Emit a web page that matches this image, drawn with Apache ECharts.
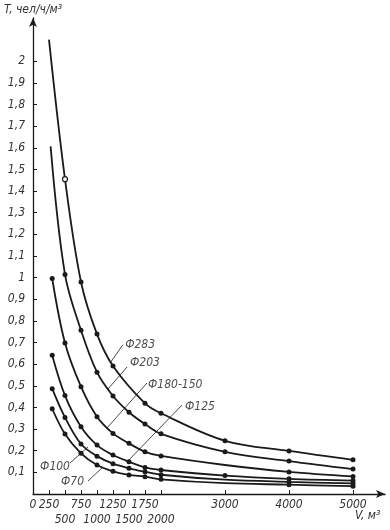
<!DOCTYPE html>
<html>
<head>
<meta charset="utf-8">
<script src="https://cdn.jsdelivr.net/npm/echarts@6/dist/echarts.min.js"></script>
<style>
html,body{margin:0;padding:0;background:#fff;}
#c{width:390px;height:530px;}
</style>
</head>
<body>
<div id="c"></div>
<script>
// ---- data ----
const xTicksTop = [0, 250, 750, 1250, 1750, 3000, 4000, 5000];
const xTicksBottom = [500, 1000, 1500, 2000];
const yTicks = [0.1,0.2,0.3,0.4,0.5,0.6,0.7,0.8,0.9,1,1.1,1.2,1.3,1.4,1.5,1.6,1.7,1.8,1.9,2];

const xPhi283 = [250, 500, 750, 1000, 1250, 1750, 2000, 3000, 4000, 5000];
const phi283  = [2.10, 1.455, 0.98, 0.739, 0.592, 0.419, 0.373, 0.246, 0.199, 0.158];
const xPhi203 = [275, 500, 750, 1000, 1250, 1500, 1750, 2000, 3000, 4000, 5000];
const phi203  = [1.607, 1.015, 0.757, 0.563, 0.453, 0.378, 0.323, 0.278, 0.195, 0.152, 0.115];
const xLow    = [300, 500, 750, 1000, 1250, 1500, 1750, 2000, 3000, 4000, 5000];
const phi180  = [0.996, 0.698, 0.496, 0.357, 0.28, 0.234, 0.195, 0.176, 0.134, 0.102, 0.081];
const phi125  = [0.641, 0.455, 0.311, 0.226, 0.18, 0.149, 0.123, 0.111, 0.085, 0.07, 0.062];
const phi100  = [0.487, 0.354, 0.231, 0.175, 0.14, 0.119, 0.103, 0.089, 0.066, 0.056, 0.049];
const phi70   = [0.394, 0.277, 0.188, 0.134, 0.105, 0.088, 0.08, 0.068, 0.05, 0.043, 0.036];

const seriesNames = ['Ф283', 'Ф203', 'Ф180-150', 'Ф125', 'Ф100', 'Ф70'];
// points drawn without a dot in the reference
const noDot = [[250], [275], [3000], [], [3000], [3000]];
const hollowDot = [[500], [], [], [], [], []];

// label annotations (text anchor, leader start, leader end) in data units
const annText   = [[1440, 0.69], [1516, 0.605], [1797, 0.503], [2375, 0.402], [578, 0.125], [797, 0.055]];
const annAlign  = ['right', 'right', 'right', 'right', 'left', 'left'];
const leadFrom  = [[1406, 0.69], [1469, 0.587], [1781, 0.513], [2328, 0.411], [578, 0.143], [859, 0.06]];
const leadTo    = [[1203, 0.605], [1156, 0.48], [1156, 0.305], [1469, 0.148], [859, 0.217], [1094, 0.125]];

const FONT = "'Liberation Sans Narrow','DejaVu Sans Condensed',sans-serif";
const INK = '#1a1a1a';

function build(xs, ys, idx) {
  return xs.map((x, i) => {
    const item = { value: [x, ys[i]] };
    if (noDot[idx].indexOf(x) >= 0) item.symbolSize = 0;
    if (hollowDot[idx].indexOf(x) >= 0) item.itemStyle = { color: '#fff', borderColor: INK, borderWidth: 1.2 };
    return item;
  });
}

const curves = [
  [xPhi283, phi283], [xPhi203, phi203], [xLow, phi180],
  [xLow, phi125], [xLow, phi100], [xLow, phi70]
];

const series = curves.map((c, i) => ({
  name: seriesNames[i],
  type: 'line',
  data: build(c[0], c[1], i),
  smooth: 0.35,
  symbol: 'circle',
  symbolSize: 5,
  showSymbol: true,
  lineStyle: { color: INK, width: 1.8 },
  itemStyle: { color: INK },
  z: 3
}));

series.push({
  type: 'scatter',
  symbolSize: 0,
  silent: true,
  data: annText.map((p, i) => ({
    value: p, name: seriesNames[i],
    label: { position: annAlign[i] }
  })),
  label: {
    show: true, formatter: '{b}', distance: 0,
    fontFamily: FONT, fontStyle: 'italic', fontSize: 12, color: INK
  },
  markLine: {
    silent: true, symbol: ['none', 'none'], animation: false,
    lineStyle: { color: INK, width: 0.8, type: 'solid' },
    label: { show: false },
    data: leadFrom.map((p, i) => [{ coord: p }, { coord: leadTo[i] }])
  }
});

const chart = echarts.init(document.getElementById('c'), null, { renderer: 'canvas' });
chart.setOption({
  animation: false,
  backgroundColor: '#fff',
  grid: { left: 33, right: 5, top: 18, bottom: 36, containLabel: false },
  xAxis: {
    type: 'value', min: 0, max: 5500, interval: 250,
    splitLine: { show: false },
    axisLine: { lineStyle: { color: INK, width: 1.3 }, symbol: ['none', 'arrow'], symbolSize: [6, 9] },
    axisTick: { show: true, inside: true, length: 4, lineStyle: { color: INK },
      customValues: xTicksTop.concat(xTicksBottom) },
    axisLabel: {
      customValues: xTicksTop.concat(xTicksBottom),
      fontFamily: FONT, fontStyle: 'italic', fontSize: 12, color: '#333', margin: 3, lineHeight: 15,
      formatter: v => (xTicksBottom.indexOf(v) >= 0 ? '\n' + v : String(v))
    }
  },
  yAxis: {
    type: 'value', min: 0, max: 2.2, interval: 0.1,
    name: 'T, чел/ч/м³', nameLocation: 'end', nameGap: 2,
    nameTextStyle: { fontFamily: FONT, fontStyle: 'italic', fontSize: 12, color: '#333', align: 'center', padding: [0, 0, 0, 0] },
    splitLine: { show: false },
    axisLine: { lineStyle: { color: INK, width: 1.3 }, symbol: ['none', 'arrow'], symbolSize: [6, 9] },
    axisTick: { show: true, inside: true, length: 4, lineStyle: { color: INK }, customValues: yTicks },
    axisLabel: {
      customValues: yTicks,
      fontFamily: FONT, fontStyle: 'italic', fontSize: 12, color: '#333', margin: 8,
      formatter: v => String(Math.round(v * 10) / 10).replace('.', ',')
    }
  },
  graphic: [{
    type: 'text', left: 355, top: 510,
    style: { text: 'V, м³', font: 'italic 12px ' + FONT, fill: '#333' }
  }],
  series: series
});
</script>
</body>
</html>
